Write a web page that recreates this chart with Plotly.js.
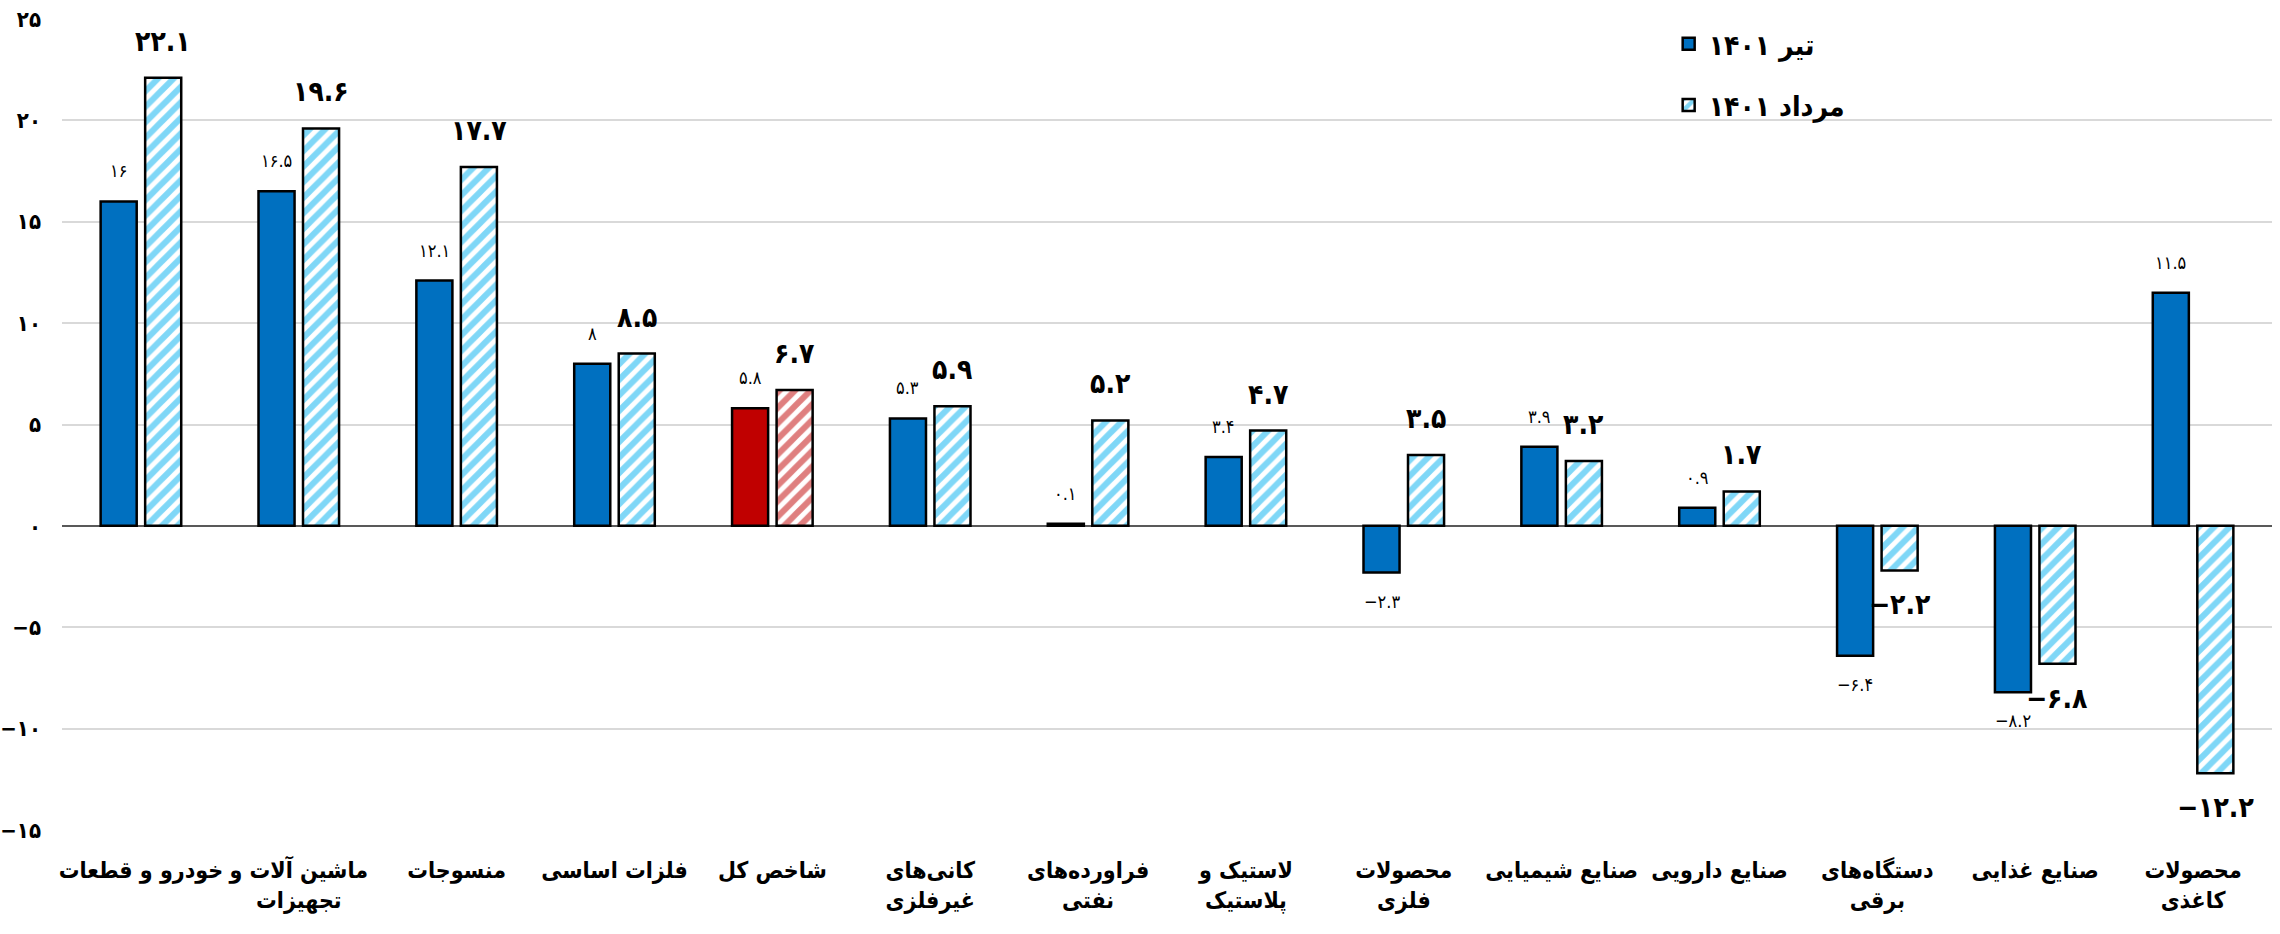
<!DOCTYPE html>
<html><head><meta charset="utf-8">
<script src="https://cdn.plot.ly/plotly-3.0.1.min.js"></script>
<style>html,body{margin:0;padding:0;background:#fff}#chart{width:2280px;height:934px}</style>
</head><body><div id="chart"></div>
<script>
const categories = ['خودرو و قطعات','ماشین آلات و<br>تجهیزات','منسوجات','فلزات اساسی','شاخص کل','کانی\u200cهای<br>غیرفلزی','فراورده\u200cهای<br>نفتی','لاستیک و<br>پلاستیک','محصولات<br>فلزی','صنایع شیمیایی','صنایع دارویی','دستگاه\u200cهای<br>برقی','صنایع غذایی','محصولات<br>کاغذی'];
const tir1401 = [16, 16.5, 12.1, 8, 5.8, 5.3, 0.1, 3.4, -2.3, 3.9, 0.9, -6.4, -8.2, 11.5];
const mordad1401 = [22.1, 19.6, 17.7, 8.5, 6.7, 5.9, 5.2, 4.7, 3.5, 3.2, 1.7, -2.2, -6.8, -12.2];
const seriesNames = ['تیر ۱۴۰۱', 'مرداد ۱۴۰۱'];
const yTickVals = [-15, -10, -5, 0, 5, 10, 15, 20, 25];
const highlightCategory = 'شاخص کل';

const faDigits = '۰۱۲۳۴۵۶۷۸۹';
function fa(v) {
  return String(v).replace(/-/g, '\u2212').replace(/[0-9]/g, d => faDigits[+d]);
}

const FONT = '"DejaVu Sans Condensed", "DejaVu Sans", sans-serif';
const BLUE = '#0070C0', LIGHT = '#00B0F0', RED = '#C00000';
const solidColors = categories.map(c => c === highlightCategory ? RED : BLUE);
const stripeColors = categories.map(c => c === highlightCategory ? RED : LIGHT);

const traces = [
  {type: 'bar', name: seriesNames[0], x: categories, y: tir1401, legendgroup: 'a',
   marker: {color: solidColors, line: {color: '#000', width: 2.5}}, hoverinfo: 'none'},
  {type: 'bar', name: seriesNames[1], x: categories, y: mordad1401, legendgroup: 'b',
   marker: {color: '#fff', line: {color: '#000', width: 2.5},
            pattern: {shape: '/', fgcolor: stripeColors, bgcolor: '#fff', size: 11, solidity: 0.55, fillmode: 'overlay'}},
   hoverinfo: 'none'}
];

const annotations = [];
[tir1401, mordad1401].forEach((arr, s) => {
  arr.forEach((v, i) => {
    annotations.push({
      x: categories[i], y: v, xref: 'x', yref: 'y', showarrow: false,
      text: fa(v),
      xshift: s === 0 ? -22.25 : 22.25,
      yshift: v >= 0 ? 18 : -16,
      yanchor: v >= 0 ? 'bottom' : 'top',
      font: s === 0 ? {family: FONT, size: 18, color: '#000'} : {family: FONT, size: 28, color: '#000', weight: 'bold'}
    });
  });
});

const layout = {
  width: 2280, height: 934,
  margin: {l: 62, r: 8, t: 19, b: 104},
  paper_bgcolor: '#fff', plot_bgcolor: '#fff',
  font: {family: FONT, color: '#000'},
  barmode: 'group', bargap: 0.436, bargroupgap: 0.19,
  showlegend: true,
  legend: {x: 0.727, y: 1.0, xanchor: 'left', yanchor: 'top', traceorder: 'grouped', tracegroupgap: 22,
           font: {family: FONT, size: 28, color: '#000', weight: 'bold'}, bgcolor: 'rgba(0,0,0,0)'},
  xaxis: {type: 'category', showgrid: false, showline: false, ticks: '', ticklabelstandoff: 24, tickangle: 0,
          tickfont: {family: FONT, size: 23, color: '#000', weight: 'bold'}, fixedrange: true},
  yaxis: {range: [-15, 25], tickvals: yTickVals, ticktext: yTickVals.map(fa), showgrid: true,
          gridcolor: '#D9D9D9', gridwidth: 2, zeroline: true, zerolinecolor: '#595959', zerolinewidth: 2,
          showline: false, ticks: '', ticklabelstandoff: 20,
          tickfont: {family: FONT, size: 22, color: '#000', weight: 'bold'}, fixedrange: true},
  annotations: annotations
};

Plotly.newPlot('chart', traces, layout, {displayModeBar: false, staticPlot: true});
</script></body></html>
